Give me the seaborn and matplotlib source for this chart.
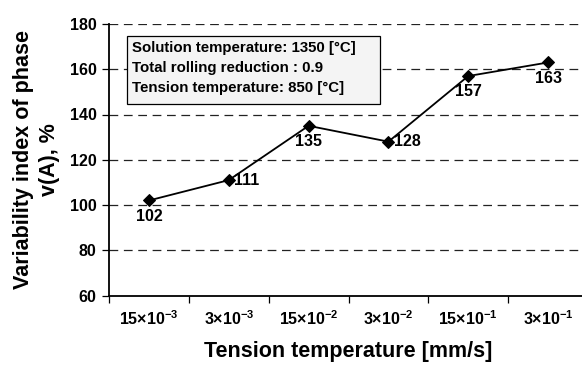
import matplotlib
matplotlib.use("Agg")
import matplotlib.pyplot as plt
import matplotlib.patches as mpatches
import seaborn as sns
import pandas as pd

categories = ["15×10$^{-3}$", "3×10$^{-3}$", "15×10$^{-2}$", "3×10$^{-2}$", "15×10$^{-1}$", "3×10$^{-1}$"]
values = [102, 111, 135, 128, 157, 163]
label_pos = ["below", "right", "below", "right", "below", "below"]
yticks = [60, 80, 100, 120, 140, 160, 180]
info_lines = ["Solution temperature: 1350 [°C]", "Total rolling reduction : 0.9", "Tension temperature: 850 [°C]"]

sns.set_theme(style="white")
plt.rcParams['font.family'] = ['Liberation Sans', 'DejaVu Sans']
plt.rcParams['font.weight'] = 'bold'
plt.rcParams['mathtext.fontset'] = 'custom'
plt.rcParams['mathtext.rm'] = 'Liberation Sans:bold'
plt.rcParams['mathtext.bf'] = 'Liberation Sans:bold'
plt.rcParams['mathtext.default'] = 'bf'
for k in ['text.color', 'axes.labelcolor', 'xtick.color', 'ytick.color']:
    plt.rcParams[k] = 'black'

df = pd.DataFrame({"x": list(range(len(values))), "y": values})

fig = plt.figure(figsize=(5.82, 3.65), dpi=100)
ax = fig.add_axes([109/582, 1-295.5/365, (588-109)/582, (295.5-24)/365])

for yv in yticks[1:]:
    ax.axhline(yv, color="#222222", lw=0.9, ls=(0, (7, 4.5)), zorder=0)

sns.lineplot(data=df, x="x", y="y", ax=ax, color="black", lw=1.3,
             marker="D", markersize=6.5, markeredgecolor="black", markerfacecolor="black")

for i, (v, p) in enumerate(zip(values, label_pos)):
    if p == "below":
        ax.annotate(str(v), (i, v), xytext=(0, -6), textcoords="offset points",
                    ha="center", va="top", fontsize=11.5, fontweight="bold")
    else:
        ax.annotate(str(v), (i, v), xytext=(4, 0), textcoords="offset points",
                    ha="left", va="center", fontsize=11.5, fontweight="bold")

ax.set_xlim(-0.5, len(values) - 0.5)
ax.set_ylim(60, 180)
ax.set_yticks(yticks)
ax.set_yticklabels([str(t) for t in yticks], fontsize=11.5, fontweight="bold")
ax.set_xticks([i + 0.0 for i in range(len(values))])
ax.set_xticklabels(categories, fontsize=11.5, fontweight="bold")
ax.set_xticks([i - 0.5 for i in range(len(values) + 1)], minor=True)
ax.tick_params(axis="x", which="major", length=0, pad=10)
ax.tick_params(axis="x", which="minor", length=5, width=0.9, color="black", direction="out", bottom=True)
ax.tick_params(axis="y", length=5, width=0.9, color="black", direction="out", left=True, pad=4)

for s in ["top", "right"]:
    ax.spines[s].set_visible(False)
for s in ["left", "bottom"]:
    ax.spines[s].set_color("black")
    ax.spines[s].set_linewidth(1.3)

ax.set_xlabel("Tension temperature [mm/s]", fontsize=15.5, fontweight="bold", labelpad=9)
ax.set_ylabel("Variability index of phase\nv(A), %", fontsize=15.5, fontweight="bold", labelpad=7,
              linespacing=1.3)

# info box
bx0, bx1 = (127-109)/479, (380-109)/479
by0, by1 = 1-(104-24)/271.5, 1-(36-24)/271.5
ax.add_patch(mpatches.Rectangle((bx0, by0), bx1-bx0, by1-by0, transform=ax.transAxes,
                                facecolor="#f4f4f4", edgecolor="black", lw=0.9, zorder=3))
for j, line in enumerate(info_lines):
    ypix = 48 + j * 20
    ax.text((132-109)/479, 1-(ypix-24)/271.5, line, transform=ax.transAxes,
            fontsize=10.8, fontweight="bold", va="center", ha="left", zorder=4)

fig.savefig("out.png", dpi=100)
